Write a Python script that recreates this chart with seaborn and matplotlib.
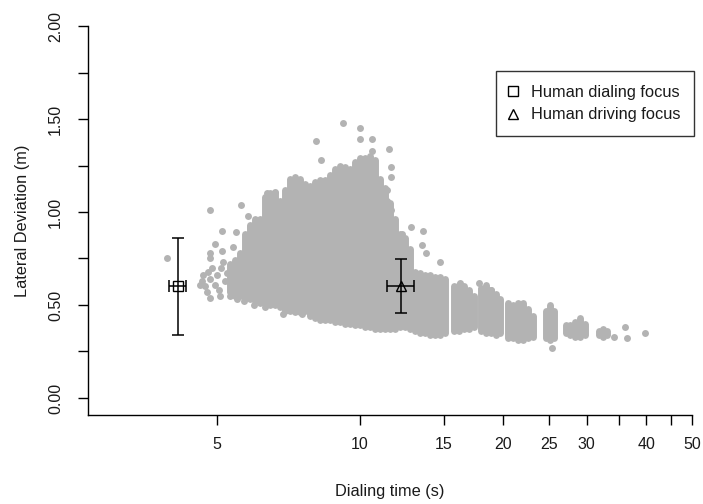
import numpy as np
import matplotlib
matplotlib.use("Agg")
import matplotlib.pyplot as plt
import seaborn as sns
from matplotlib.lines import Line2D
import pandas as pd

# dense body of the model cloud: per dialing-time column, lowest/highest dot centre
col_time = [5.33, 5.46, 5.59, 5.73, 5.87, 6.01, 6.16, 6.31, 6.47, 6.63, 6.79, 6.95,
            7.12, 7.30, 7.48, 7.66, 7.85, 8.04, 8.24, 8.44, 8.65, 8.86, 9.08, 9.30,
            9.53, 9.76, 10.0, 10.24, 10.50, 10.75, 11.02, 11.29, 11.57, 11.85, 12.14,
            12.44, 12.74, 13.06, 13.38, 13.70, 14.04, 14.38, 14.74, 15.10,
            15.77, 16.16, 16.55, 16.95, 17.37,
            17.98, 18.42, 18.87, 19.33, 19.71,
            20.49, 20.99, 21.51, 22.04, 22.58, 23.13,
            24.64, 25.12, 25.62,
            27.15, 27.68, 28.36, 29.05, 29.77,
            31.86, 32.48, 33.12]
col_low = [0.57, 0.55, 0.55, 0.54, 0.53, 0.52, 0.51, 0.51, 0.50, 0.50, 0.49, 0.47,
           0.47, 0.46, 0.46, 0.47, 0.44, 0.43, 0.42, 0.42, 0.42, 0.41, 0.41, 0.40,
           0.40, 0.39, 0.39, 0.38, 0.38, 0.37, 0.37, 0.37, 0.37, 0.37, 0.38,
           0.38, 0.37, 0.36, 0.35, 0.35, 0.34, 0.34, 0.34, 0.35,
           0.36, 0.36, 0.37, 0.37, 0.38,
           0.36, 0.35, 0.35, 0.34, 0.35,
           0.32, 0.32, 0.31, 0.31, 0.32, 0.33,
           0.32, 0.31, 0.32,
           0.35, 0.34, 0.33, 0.33, 0.34,
           0.34, 0.33, 0.34]
col_high = [0.72, 0.74, 0.78, 0.88, 0.93, 0.96, 0.96, 1.08, 1.10, 1.10, 1.06, 1.12,
            1.18, 1.19, 1.18, 1.15, 1.14, 1.16, 1.17, 1.17, 1.20, 1.23, 1.25, 1.24,
            1.23, 1.27, 1.29, 1.29, 1.30, 1.28, 1.18, 1.13, 1.05, 0.96, 0.88,
            0.86, 0.80, 0.68, 0.67, 0.66, 0.66, 0.65, 0.65, 0.64,
            0.60, 0.61, 0.60, 0.58, 0.55,
            0.59, 0.61, 0.58, 0.56, 0.53,
            0.51, 0.50, 0.51, 0.51, 0.48, 0.44,
            0.47, 0.50, 0.47,
            0.39, 0.39, 0.41, 0.43, 0.40,
            0.36, 0.37, 0.36]

# scattered single runs around the body
pt_time = [3.93, 4.61, 4.65, 4.68, 4.72, 4.77, 4.79, 4.84, 4.84, 4.84, 4.84, 4.89,
           4.95, 4.95, 5.00, 5.05, 5.08, 5.10, 5.12, 5.12, 5.16, 5.20, 5.25, 5.40,
           5.50, 5.62, 5.82, 5.87, 6.05, 4.84, 5.33, 5.52, 5.70, 5.98, 6.31, 6.37,
           6.63, 6.89, 7.57,
           8.10, 8.30, 9.20, 10.0, 10.0, 10.6, 10.6, 11.5, 11.6, 11.6, 11.4, 11.4, 11.6,
           12.26, 12.8, 13.6, 13.5, 13.8, 14.7, 16.2, 17.8, 18.9,
           25.4, 34.3, 36.1, 36.5, 39.8]
pt_dev = [0.75, 0.61, 0.63, 0.66, 0.60, 0.57, 0.68, 0.64, 0.78, 0.75, 0.54, 0.70,
          0.83, 0.61, 0.66, 0.58, 0.55, 0.70, 0.79, 0.90, 0.73, 0.63, 0.67, 0.81,
          0.89, 1.04, 0.98, 0.92, 0.90, 1.01, 0.55, 0.53, 0.52, 0.50, 0.49, 1.10,
          1.11, 0.45, 0.45,
          1.38, 1.28, 1.48, 1.45, 1.39, 1.39, 1.33, 1.34, 1.24, 1.19, 1.12, 1.06, 1.01,
          0.88, 0.92, 0.90, 0.82, 0.78, 0.73, 0.62, 0.62, 0.58,
          0.27, 0.33, 0.38, 0.32, 0.35]

# human data: means and error bars
human_labels = ["Human dialing focus", "Human driving focus"]
human_time = [4.14, 12.2]
human_time_err = [0.17, 0.81]
human_dev = [0.60, 0.60]
human_dev_err = [0.26, 0.145]
human_markers = ["s", "^"]

x_ticks = [5, 10, 15, 20, 25, 30, 35, 40, 45, 50]
x_ticklabels = ["5", "10", "15", "20", "25", "30", "", "40", "", "50"]
y_ticks = [0, 0.25, 0.5, 0.75, 1.0, 1.25, 1.5, 1.75, 2.0]
y_ticklabels = ["0.00", "", "0.50", "", "1.00", "", "1.50", "", "2.00"]

sns.set_theme(style="white")
plt.rcParams['font.family'] = ['Liberation Sans', 'DejaVu Sans']

grey = "#B3B3B3"
txt_col = "#1a1a1a"
fig = plt.figure(figsize=(7.03, 5.04), dpi=100)
ax = fig.add_axes([0.1252, 0.1766, 0.8596, 0.7718])

# each column of overlapping dots drawn as a thick round-capped stroke
for t, lo, hi in zip(col_time, col_low, col_high):
    ax.plot([t, t], [lo, hi], color=grey, linewidth=5.0, solid_capstyle="round")

pts = pd.DataFrame({"time": pt_time, "dev": pt_dev})
sns.scatterplot(data=pts, x="time", y="dev", color=grey, s=25, linewidth=0, ax=ax)

for t, te, d, de, m in zip(human_time, human_time_err, human_dev, human_dev_err, human_markers):
    ax.errorbar(t, d, xerr=te, yerr=de, fmt=m, mfc="none", mec="black", ms=6.5,
                ecolor="black", elinewidth=1.1, capsize=4, capthick=1.1, zorder=5)

ax.set_xscale("log")
ax.set_xlim(2.68, 50)
ax.set_ylim(-0.0914, 2.0)
ax.set_xticks(x_ticks)
ax.set_xticklabels(x_ticklabels)
ax.xaxis.set_minor_locator(matplotlib.ticker.NullLocator())
ax.set_yticks(y_ticks)
ax.set_yticklabels(y_ticklabels, rotation=90, va="center")

for s in ["top", "right"]:
    ax.spines[s].set_visible(False)
for s in ["left", "bottom"]:
    ax.spines[s].set_color("black")
    ax.spines[s].set_linewidth(1.0)

ax.tick_params(axis="x", direction="out", length=7, width=1.0, color="black",
               labelsize=11.5, pad=9, labelcolor=txt_col, bottom=True)
ax.tick_params(axis="y", direction="out", length=7, width=1.0, color="black",
               labelsize=11.5, pad=11, labelcolor=txt_col, left=True)

ax.set_xlabel("Dialing time (s)", fontsize=11.8, color=txt_col, labelpad=23)
ax.set_ylabel("Lateral Deviation (m)", fontsize=11.8, color=txt_col, labelpad=13)

handles = [Line2D([], [], marker=m, linestyle="none", mfc="none", mec="black", ms=6.5)
           for m in human_markers]
leg = ax.legend(handles, human_labels, loc="upper right", bbox_to_anchor=(1.003, 0.884),
                borderaxespad=0, fontsize=11.8, frameon=True, fancybox=False,
                handlelength=0.3, handletextpad=0.95, labelspacing=0.45, borderpad=0.85)
leg.get_frame().set_edgecolor("black")
leg.get_frame().set_linewidth(1.0)
for txt in leg.get_texts():
    txt.set_color(txt_col)

fig.savefig("out.png", dpi=100)
